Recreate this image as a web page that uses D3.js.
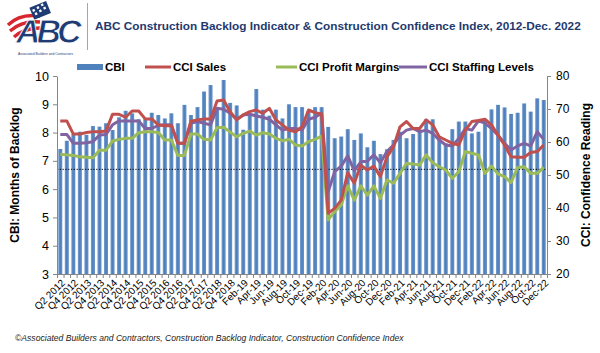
<!DOCTYPE html>
<html><head><meta charset="utf-8">
<script src="https://cdn.jsdelivr.net/npm/d3@7"></script>
<style>body{margin:0;background:#fff}svg{display:block}text{font-family:Arial,"Liberation Sans",sans-serif}</style>
</head><body><svg id="c" width="600" height="353"></svg>
<script>
const categories = ["Q2 2012","Q3 2012","Q4 2012",
"Q1 2013","Q2 2013","Q3 2013","Q4 2013","Q1 2014","Q2 2014","Q3 2014","Q4 2014",
"Q1 2015","Q2 2015","Q3 2015","Q4 2015","Q1 2016","Q2 2016","Q3 2016","Q4 2016",
"Q1 2017","Q2 2017","Q3 2017","Q4 2017","Q1 2018","Q2 2018","Q3 2018","Q4 2018",
"Jan-19","Feb-19","Mar-19","Apr-19","May-19","Jun-19","Jul-19","Aug-19","Sep-19","Oct-19","Nov-19","Dec-19",
"Jan-20","Feb-20","Mar-20","Apr-20","May-20","Jun-20","Jul-20","Aug-20","Sep-20","Oct-20","Nov-20","Dec-20",
"Jan-21","Feb-21","Mar-21","Apr-21","May-21","Jun-21","Jul-21","Aug-21","Sep-21","Oct-21","Nov-21","Dec-21",
"Jan-22","Feb-22","Mar-22","Apr-22","May-22","Jun-22","Jul-22","Aug-22","Sep-22","Oct-22","Nov-22","Dec-22"];

const cbi = [7.42,7.71,7.95,8.03,7.92,8.23,8.21,8.33,8.09,8.54,8.77,8.68,8.47,8.49,8.70,8.62,8.50,8.68,8.33,8.98,8.62,8.90,9.45,9.68,8.90,9.86,9.05,
8.96,8.10,8.60,9.54,8.81,8.60,8.81,8.50,9.00,8.90,8.90,8.75,
8.90,8.90,8.20,7.80,7.86,8.12,7.74,7.97,7.48,7.71,7.24,7.41,
7.74,8.03,7.80,7.95,8.10,8.47,8.47,7.80,7.62,8.12,8.39,8.39,
7.97,8.03,8.45,8.82,8.98,8.89,8.66,8.70,9.03,8.74,9.21,9.15];

const cciSales = [66.4,66.4,62.4,62.4,62.9,63.1,63.1,63.3,68.4,68.4,67.5,69.4,69.4,67.0,67.0,65.2,64.9,64.9,59.6,59.6,66.3,66.7,67.0,67.0,72.4,72.7,
69.2,66.7,68.2,69.2,69.7,68.7,70.2,66.7,65.2,63.6,63.1,64.6,69.7,68.9,68.5,38.4,39.9,42.4,50.7,47.5,53.0,51.5,52.7,49.5,55.5,58.5,64.6,
66.2,64.1,64.1,66.7,65.2,61.6,60.6,59.6,59.1,63.6,66.2,66.5,66.9,65.2,62.1,59.1,55.5,55.4,55.4,56.8,57.1,59.1];

const cciProfit = [56.3,56.1,55.9,55.5,55.4,55.2,57.5,57.5,60.3,60.8,61.1,61.1,62.8,63.1,63.1,62.9,60.6,60.6,55.9,55.9,62.4,62.4,60.8,60.6,64.3,
64.5,63.0,61.6,62.6,63.3,62.1,62.8,62.4,61.1,60.4,60.8,59.1,58.8,60.1,60.8,61.8,36.4,38.9,40.9,46.7,42.4,46.7,43.9,46.7,42.9,48.5,47.5,50.5,
53.5,53.3,53.0,56.1,53.7,52.5,51.5,49.0,51.0,57.1,56.6,56.1,50.5,52.7,50.3,49.5,47.7,52.3,52.5,50.5,50.5,52.3];

const cciStaffing = [62.3,62.3,59.6,59.6,59.8,60.1,62.1,62.3,65.2,66.4,66.4,66.4,66.4,64.1,64.1,65.0,65.2,65.2,59.6,59.6,65.7,66.2,65.7,65.2,70.2,
69.9,68.7,66.9,68.2,68.4,67.9,67.5,66.9,65.2,63.6,64.1,64.1,63.6,66.9,67.5,68.7,44.9,51.0,52.7,55.8,51.3,54.0,54.2,56.1,53.7,57.1,59.1,
62.0,63.6,64.1,63.1,63.6,62.6,60.6,59.1,58.8,61.1,64.1,63.6,66.4,65.7,64.1,62.1,59.6,57.6,58.8,59.6,58.8,63.1,60.8];

const leftTicks = [3,4,5,6,7,8,9,10];
const rightTicks = [20,30,40,50,60,70,80];
const xTickLabels = categories.filter((d,i)=>i%2===0);
const refLine = 6.7;

const colors = {"CBI":"#4F81BD","CCI Sales":"#C0504D","CCI Profit Margins":"#9BBB59","CCI Staffing Levels":"#8064A2"};

const svg = d3.select("#c");
const P = {l:57, r:547, t:76, b:274};

const x = d3.scaleBand().domain(categories).range([P.l,P.r]).padding(0);
const yL = d3.scaleLinear().domain([3,10]).range([P.b,P.t]);
const yR = d3.scaleLinear().domain([20,80]).range([P.b,P.t]);
const cx = c => x(c) + x.bandwidth()/2;

const defs = svg.append("defs");
const g = defs.append("linearGradient").attr("id","barG").attr("x1","0").attr("x2","1").attr("y1","0").attr("y2","0");
g.append("stop").attr("offset","0%").attr("stop-color","#7EA3D3");
g.append("stop").attr("offset","45%").attr("stop-color","#4A7EBB");
g.append("stop").attr("offset","100%").attr("stop-color","#6C94C8");

// logo
const logo = svg.append("g").attr("class","logo");
const stripes = ["M8,25 C16,17 26,14 40,16","M10,31 C19,23 28,21 40,22","M14,37 C22,30 30,28 40,28"];
stripes.forEach(p=>logo.append("path").attr("d",p).attr("fill","none").attr("stroke","#D7262E").attr("stroke-width",3.4));
logo.append("rect").attr("x",31).attr("y",4).attr("width",18).attr("height",13).attr("fill","#1F3B73").attr("transform","rotate(-22,40,10)");
[[34,8],[39,7],[44,6],[35,12],[40,11],[45,10]].forEach(([a,b])=>logo.append("rect").attr("x",a-1.2).attr("y",b-1.2).attr("width",2.4).attr("height",2.4).attr("fill","#fff").attr("transform","rotate(-22,40,10)"));
logo.append("text").attr("x",16).attr("y",43).attr("font-size",34).attr("font-weight","bold").attr("font-style","italic").attr("letter-spacing",-4)
  .attr("fill","#1F3B73").attr("stroke","#fff").attr("stroke-width",0.8).text("ABC");
logo.append("text").attr("x",18).attr("y",55).attr("font-size",3.4).attr("fill","#1F3B73").text("Associated Builders and Contractors");
svg.append("line").attr("x1",87.5).attr("x2",87.5).attr("y1",3).attr("y2",50).attr("stroke","#A6A6A6").attr("stroke-width",1);

// title
svg.append("text").attr("x",95).attr("y",30).attr("font-size",11.8).attr("font-weight","bold").attr("fill","#1F3A6E")
  .text("ABC Construction Backlog Indicator & Construction Confidence Index, 2012-Dec. 2022");

// legend
const leg = svg.append("g").attr("font-size",11.5).attr("font-weight","bold");
const legItems = [
  {name:"CBI", x:77, type:"bar", w:26},
  {name:"CCI Sales", x:145, type:"line", w:26},
  {name:"CCI Profit Margins", x:276, type:"line", w:21},
  {name:"CCI Staffing Levels", x:399, type:"line", w:28}
];
legItems.forEach(it=>{
  if(it.type==="bar") leg.append("rect").attr("x",it.x).attr("y",64).attr("width",it.w).attr("height",6).attr("fill",colors[it.name]);
  else leg.append("line").attr("x1",it.x).attr("x2",it.x+it.w).attr("y1",67).attr("y2",67).attr("stroke",colors[it.name]).attr("stroke-width",3);
  leg.append("text").attr("x",it.x+it.w+2).attr("y",71).text(it.name);
});

// bars
const bw = x.bandwidth()*0.62;
svg.append("g").selectAll("rect").data(categories).join("rect")
  .attr("x",(c)=>cx(c)-bw/2).attr("width",bw)
  .attr("y",(c,i)=>yL(cbi[i])).attr("height",(c,i)=>P.b-yL(cbi[i]))
  .attr("fill","url(#barG)");

// reference dotted line
svg.append("line").attr("x1",P.l).attr("x2",P.r).attr("y1",yL(refLine)).attr("y2",yL(refLine))
  .attr("stroke","#000").attr("stroke-width",1).attr("stroke-dasharray","1.2,1.6");

// lines
const line = d3.line().x((d,i)=>cx(categories[i])).y(d=>yR(d));
[["CCI Profit Margins",cciProfit],["CCI Staffing Levels",cciStaffing],["CCI Sales",cciSales]].forEach(([n,arr])=>{
  svg.append("path").datum(arr).attr("d",line).attr("fill","none").attr("stroke",colors[n]).attr("stroke-width",3).attr("stroke-linejoin","round");
});

// axes
const axL = svg.append("g").attr("transform",`translate(${P.l},0)`).call(d3.axisLeft(yL).tickValues(leftTicks).tickSize(4).tickSizeOuter(0).tickFormat(d3.format("d")));
axL.select(".domain").attr("stroke","#868686");
axL.selectAll(".tick line").attr("stroke","#868686");
axL.selectAll(".tick text").attr("font-size",12.5).attr("fill","#000").attr("font-family","Arial,'Liberation Sans',sans-serif").attr("x",-8);

const axR = svg.append("g").attr("transform",`translate(${P.r},0)`).call(d3.axisRight(yR).tickValues(rightTicks).tickSize(4).tickSizeOuter(0).tickFormat(d3.format("d")));
axR.select(".domain").attr("stroke","#868686");
axR.selectAll(".tick line").attr("stroke","#868686");
axR.selectAll(".tick text").attr("font-size",12).attr("fill","#000").attr("font-family","'Liberation Serif','Times New Roman',serif").attr("x",9);

// x axis
const axX = svg.append("g");
axX.append("line").attr("x1",P.l).attr("x2",P.r).attr("y1",P.b+0.5).attr("y2",P.b+0.5).attr("stroke","#868686");
axX.selectAll("line.t").data(categories.concat(["__end"])).join("line").attr("class","t")
  .attr("x1",(c,i)=> i<categories.length ? x(c)+0.5 : P.r+0.5).attr("x2",(c,i)=> i<categories.length ? x(c)+0.5 : P.r+0.5)
  .attr("y1",P.b).attr("y2",P.b+4).attr("stroke","#868686");
axX.selectAll("text").data(xTickLabels).join("text")
  .attr("transform",c=>`translate(${cx(c)+3},${P.b+7}) rotate(-45)`)
  .attr("text-anchor","end").attr("dy","0.35em").attr("font-size",10).attr("fill","#000").text(c=>c);

// axis titles
svg.append("text").attr("transform",`translate(19,${(P.t+P.b)/2}) rotate(-90)`).attr("text-anchor","middle")
  .attr("font-size",12).attr("font-weight","bold").text("CBI: Months of Backlog");
svg.append("text").attr("transform",`translate(590,${(P.t+P.b)/2}) rotate(-90)`).attr("text-anchor","middle")
  .attr("font-size",12).attr("font-weight","bold").text("CCI: Confidence Reading");

// footer
svg.append("text").attr("x",15).attr("y",341).attr("font-size",8.6).attr("font-style","italic").attr("fill","#222")
  .text("©Associated Builders and Contractors, Construction Backlog Indicator, Construction Confidence Index");
</script></body></html>
